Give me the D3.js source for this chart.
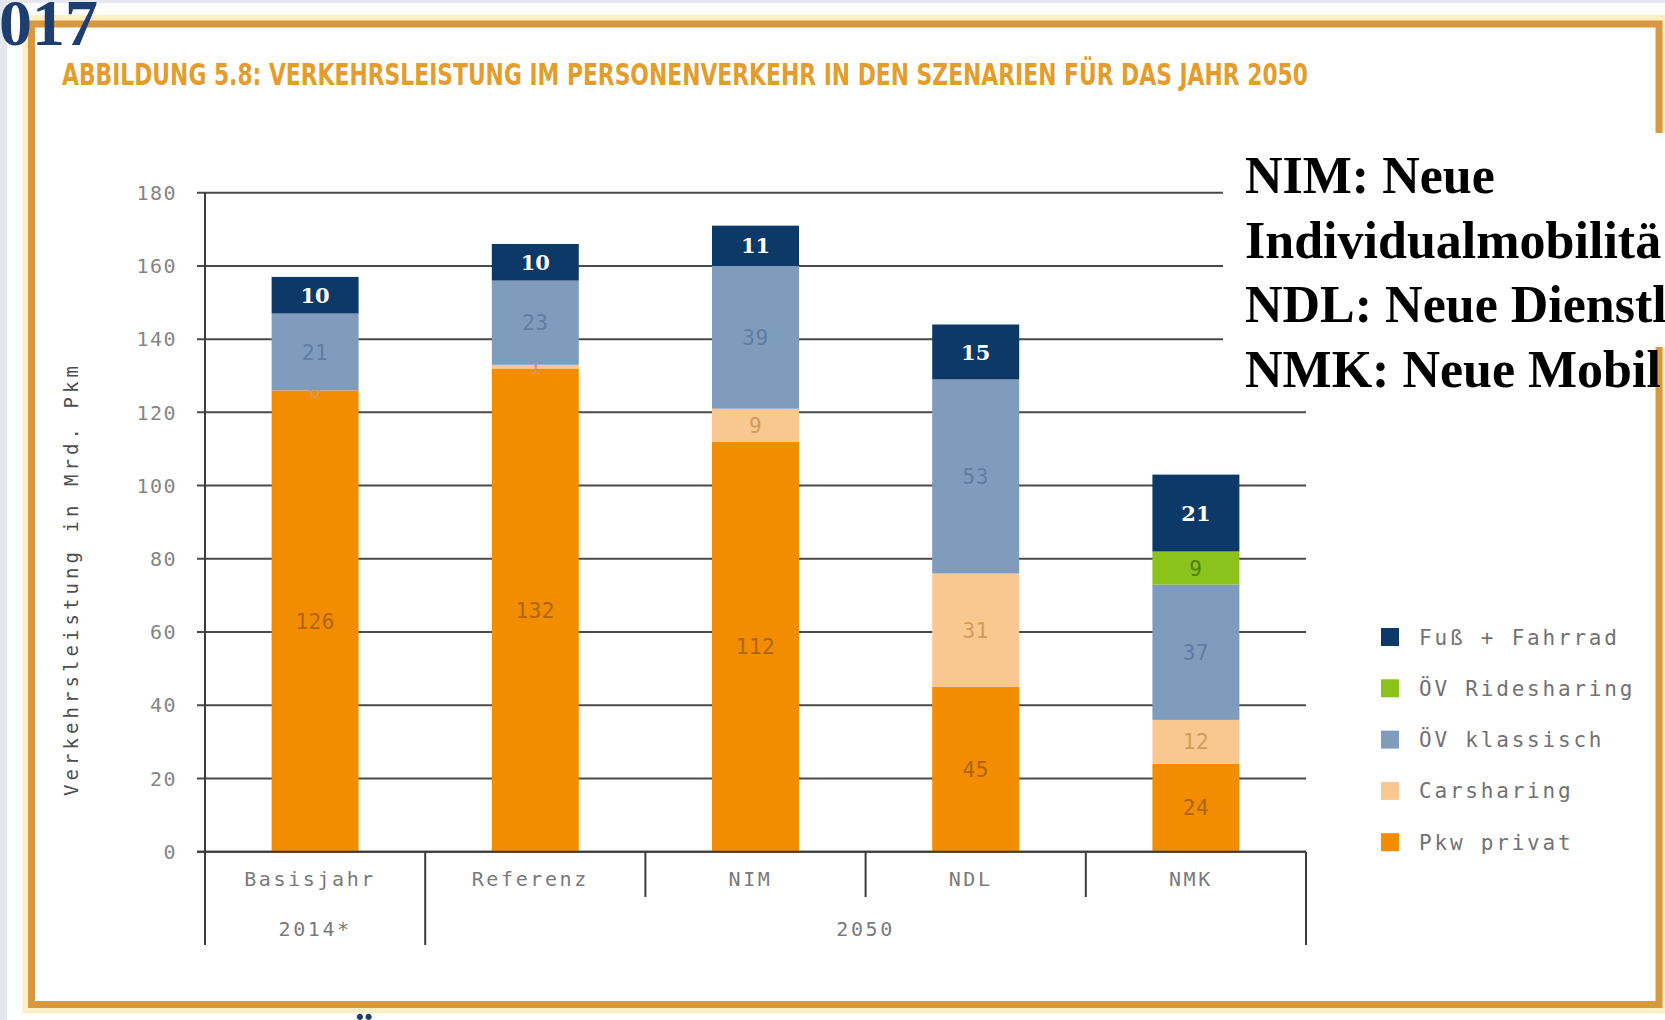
<!DOCTYPE html>
<meta charset="utf-8">
<style>

body {
  margin: 0;
  background: #fff;
}

svg {
  display: block;
}

.ticks text, .cats text, .legend text, .ytitle {
  font-family: "DejaVu Sans Mono", monospace;
}

.overlay text {
  font-family: "Liberation Serif", "Times New Roman", serif;
  font-weight: bold;
}

</style>
<body>
<svg width="1665" height="1020"></svg>
</body>
<script src="https://d3js.org/d3.v7.min.js"></script>
<script>

// values (Mrd. Pkm)
var categories = ["Basisjahr", "Referenz", "NIM", "NDL", "NMK"];
var groupLabels = ["2014*", "2050"];
var groupFirst = [0, 1];
var groupLast = [0, 4];
var seriesNames = ["Pkw privat", "Carsharing", "ÖV klassisch", "ÖV Ridesharing", "Fuß + Fahrrad"];
var pkwPrivat = [126, 132, 112, 45, 24];
var carsharing = [0, 1, 9, 31, 12];
var oevKlassisch = [21, 23, 39, 53, 37];
var oevRidesharing = [0, 0, 0, 0, 9];
var fussFahrrad = [10, 10, 11, 15, 21];
var yTicks = [0, 20, 40, 60, 80, 100, 120, 140, 160, 180];
var notes = ["NIM: Neue", "Individualmobilitä", "NDL: Neue Dienstl", "NMK: Neue Mobil"];

var seriesValues = [pkwPrivat, carsharing, oevKlassisch, oevRidesharing, fussFahrrad];
var fills = ["#f28c00", "#f9c890", "#7f9cbd", "#8cc21c", "#0c3967"];
var labelColors = ["#b0650c", "#d49a5c", "#5d7da2", "#4f7f0c", "#ffffff"];

var svg = d3.select("svg"),
    width = +svg.attr("width"),
    height = +svg.attr("height");

// page background strips + orange frame
svg.append("rect").attr("x", 0).attr("y", 0).attr("width", 7).attr("height", height).attr("fill", "#e3e8f0");
svg.append("rect").attr("x", 0).attr("y", 0).attr("width", width).attr("height", 3).attr("fill", "#e3e8f0");
svg.append("rect")
    .attr("x", 31.5).attr("y", 24).attr("width", 1627.5).attr("height", 980.5)
    .attr("fill", "none").attr("stroke", "#fcefc6").attr("stroke-width", 18);
svg.append("rect")
    .attr("x", 31.5).attr("y", 24).attr("width", 1627.5).attr("height", 980.5)
    .attr("fill", "#fff").attr("stroke", "#d8983f").attr("stroke-width", 7);

// title
svg.append("text")
    .attr("x", 62).attr("y", 85)
    .attr("textLength", 1246).attr("lengthAdjust", "spacingAndGlyphs")
    .attr("font-family", "'DejaVu Sans Condensed', sans-serif")
    .attr("font-weight", "bold")
    .attr("font-size", 30)
    .attr("fill", "#e49d2c")
    .text("ABBILDUNG 5.8: VERKEHRSLEISTUNG IM PERSONENVERKEHR IN DEN SZENARIEN FÜR DAS JAHR 2050");

var x = d3.scaleBand().domain(categories).range([205, 1306]).padding(0);
var y = d3.scaleLinear().domain([0, 180]).range([851.7, 192.7]);
var barW = x.bandwidth() * 0.395;

// gridlines and tick labels
var ticks = svg.append("g").attr("class", "ticks");
ticks.selectAll("line")
  .data(yTicks)
  .enter().append("line")
    .attr("x1", 197).attr("x2", 1306)
    .attr("y1", d => y(d)).attr("y2", d => y(d))
    .attr("stroke", "#4a4a4a").attr("stroke-width", 2);
ticks.selectAll("text")
  .data(yTicks)
  .enter().append("text")
    .attr("x", 177).attr("y", d => y(d))
    .attr("dy", "0.36em")
    .attr("text-anchor", "end")
    .attr("font-size", 20)
    .attr("letter-spacing", 1.5)
    .attr("fill", "#858585")
    .text(d => d);

svg.append("text")
    .attr("class", "ytitle")
    .attr("transform", "translate(78,581) rotate(-90)")
    .attr("text-anchor", "middle")
    .attr("textLength", 430)
    .attr("font-size", 19)
    .attr("fill", "#4e4e4e")
    .text("Verkehrsleistung in Mrd. Pkm");

// stacked bars
var rows = categories.map((c, i) => {
  var r = { cat: c };
  seriesNames.forEach((s, j) => r[s] = seriesValues[j][i]);
  return r;
});
var stacked = d3.stack().keys(seriesNames)(rows);

var layer = svg.append("g")
  .selectAll("g")
  .data(stacked)
  .enter().append("g")
    .attr("fill", (d, i) => fills[i]);

layer.selectAll("rect")
  .data(d => d)
  .enter().append("rect")
    .attr("x", d => x(d.data.cat) + (x.bandwidth() - barW) / 2)
    .attr("y", d => y(d[1]))
    .attr("width", barW)
    .attr("height", d => y(d[0]) - y(d[1]));

// segment labels (carsharing is labelled even at 0)
layer.each(function(s, i) {
  d3.select(this).selectAll("text")
    .data(s.filter(d => d[1] - d[0] > 0 || i === 1))
    .enter().append("text")
      .attr("x", d => x(d.data.cat) + x.bandwidth() / 2)
      .attr("y", d => y((d[0] + d[1]) / 2))
      .attr("dy", "0.36em")
      .attr("text-anchor", "middle")
      .attr("font-family", i === 4 ? "'DejaVu Serif', serif" : "'DejaVu Sans Mono', monospace")
      .attr("font-weight", i === 4 ? "bold" : "normal")
      .attr("font-size", 21)
      .attr("letter-spacing", i === 4 ? 0 : 0.5)
      .attr("fill", labelColors[i])
      .text(d => d[1] - d[0]);
});

// y axis + x axis with group brackets
svg.append("line")
    .attr("x1", 205).attr("x2", 205).attr("y1", 192).attr("y2", 945)
    .attr("stroke", "#3c3c3c").attr("stroke-width", 2);
svg.append("line")
    .attr("x1", 197).attr("x2", 1306).attr("y1", y(0)).attr("y2", y(0))
    .attr("stroke", "#3c3c3c").attr("stroke-width", 2);

var bounds = categories.map(c => x(c)).concat([x.range()[1]]);
var longIdx = [0, 1, 5];
svg.append("g")
  .selectAll("line")
  .data(bounds.slice(1))
  .enter().append("line")
    .attr("x1", d => d).attr("x2", d => d)
    .attr("y1", y(0))
    .attr("y2", (d, i) => longIdx.indexOf(i + 1) > -1 ? 945 : 897)
    .attr("stroke", "#3c3c3c").attr("stroke-width", 2);

var cats = svg.append("g").attr("class", "cats");
cats.selectAll("text.cat")
  .data(categories)
  .enter().append("text")
    .attr("class", "cat")
    .attr("x", d => x(d) + x.bandwidth() / 2 - 5)
    .attr("y", 879)
    .attr("dy", "0.36em")
    .attr("text-anchor", "middle")
    .attr("font-size", 20)
    .attr("letter-spacing", 2.6)
    .attr("fill", "#7a7a7a")
    .text(d => d);
cats.selectAll("text.grp")
  .data(groupLabels)
  .enter().append("text")
    .attr("class", "grp")
    .attr("x", (d, i) => (x(categories[groupFirst[i]]) + x(categories[groupLast[i]]) + x.bandwidth()) / 2)
    .attr("y", 929)
    .attr("dy", "0.36em")
    .attr("text-anchor", "middle")
    .attr("font-size", 20)
    .attr("letter-spacing", 2.6)
    .attr("fill", "#7a7a7a")
    .text(d => d);

// legend, top item is the top of the stack
var legendOrder = [4, 3, 2, 1, 0];
var legend = svg.append("g").attr("class", "legend")
  .selectAll("g")
  .data(legendOrder)
  .enter().append("g")
    .attr("transform", (d, i) => `translate(1381,${637 + i * 51.3})`);
legend.append("rect")
    .attr("x", 0).attr("y", -9).attr("width", 18).attr("height", 18)
    .attr("fill", d => fills[d]);
legend.append("text")
    .attr("x", 38).attr("dy", "0.36em")
    .attr("font-size", 21)
    .attr("letter-spacing", 2.8)
    .attr("fill", "#727272")
    .text(d => seriesNames[d]);

// slide overlay: white note box, year fragment and cut-off umlaut
var overlay = svg.append("g").attr("class", "overlay");
overlay.append("rect")
    .attr("x", 1223).attr("y", 133).attr("width", 442).attr("height", 214)
    .attr("fill", "#fff");
overlay.selectAll("text.note")
  .data(notes)
  .enter().append("text")
    .attr("class", "note")
    .attr("x", 1245)
    .attr("y", (d, i) => 193 + i * 64.5)
    .attr("font-size", 52)
    .attr("fill", "#000")
    .text(d => d);
overlay.append("text")
    .attr("x", 98).attr("y", 45)
    .attr("text-anchor", "end")
    .attr("font-size", 66)
    .attr("fill", "#1f3e70")
    .text("2017");
overlay.append("text")
    .attr("x", 364).attr("y", 1058)
    .attr("text-anchor", "middle")
    .attr("font-size", 53)
    .attr("fill", "#1f3e70")
    .text("Ö");

</script>
